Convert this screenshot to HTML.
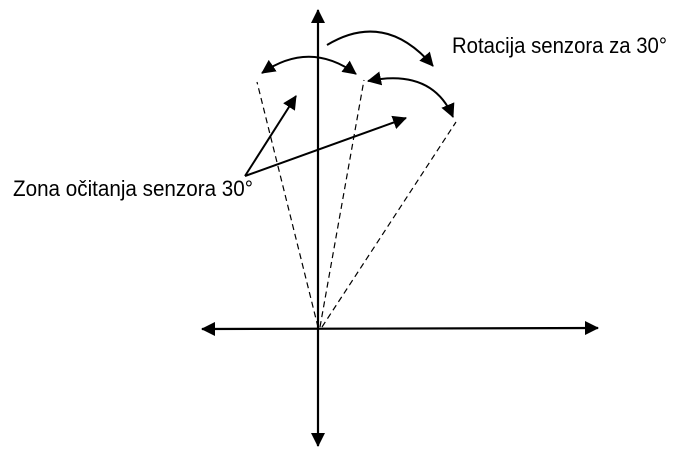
<!DOCTYPE html>
<html><head><meta charset="utf-8"><style>
html,body{margin:0;padding:0;background:#fff;}
svg{display:block}
text{font-family:"Liberation Sans",sans-serif;font-size:22px;fill:#000}
</style></head><body>
<svg width="677" height="456" viewBox="0 0 677 456" xmlns="http://www.w3.org/2000/svg">
<defs>
<marker id="b" markerWidth="14" markerHeight="14" refX="13" refY="7" orient="auto-start-reverse" markerUnits="userSpaceOnUse" viewBox="0 0 14 14">
<path d="M0,0 L14,7 L0,14 Z" fill="#000"/></marker>
</defs>
<g stroke="#000" fill="none">
<line x1="318" y1="446" x2="318" y2="10" stroke-width="2.2" marker-start="url(#b)" marker-end="url(#b)"/>
<line x1="202" y1="329" x2="598" y2="328" stroke-width="2.2" marker-start="url(#b)" marker-end="url(#b)"/>
<g stroke-width="1.2" stroke-dasharray="6,4">
<line x1="318" y1="327" x2="257" y2="82"/>
<line x1="320" y1="327" x2="364" y2="80"/>
<line x1="322" y1="327" x2="456" y2="122"/>
</g>
<path d="M262,73 Q310,40 356,74" stroke-width="2" marker-start="url(#b)" marker-end="url(#b)"/>
<path d="M368,81 Q432,68 453,117" stroke-width="2" marker-start="url(#b)" marker-end="url(#b)"/>
<path d="M327,45 Q385,10 433,66" stroke-width="2" marker-end="url(#b)"/>
<line x1="245" y1="176" x2="296" y2="96" stroke-width="2" marker-end="url(#b)"/>
<line x1="245" y1="176" x2="406" y2="118" stroke-width="2" marker-end="url(#b)"/>
</g>
<text x="452" y="53" textLength="215" lengthAdjust="spacingAndGlyphs">Rotacija senzora za 30°</text>
<text x="13" y="196" textLength="240" lengthAdjust="spacingAndGlyphs">Zona očitanja senzora 30°</text>
</svg>
</body></html>
